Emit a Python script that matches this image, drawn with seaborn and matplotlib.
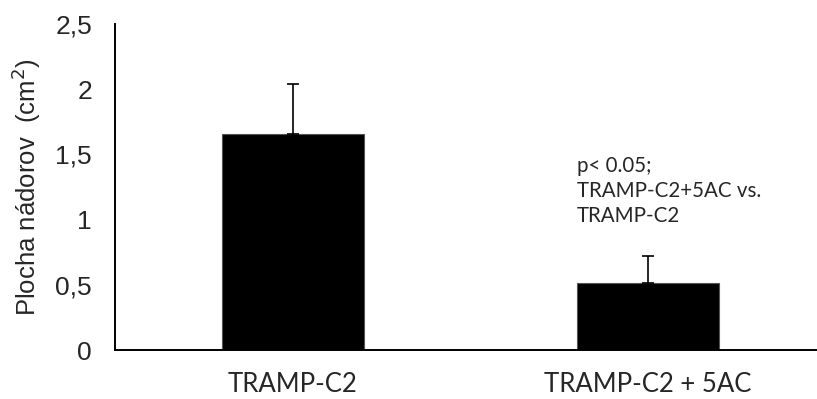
import matplotlib
matplotlib.use("Agg")
import matplotlib.pyplot as plt
import seaborn as sns
import pandas as pd

groups = ["TRAMP-C2", "TRAMP-C2 + 5AC"]
area_mean = [1.66, 0.51]
area_err = [0.38, 0.21]
y_ticks = [0, 0.5, 1, 1.5, 2, 2.5]
y_tick_labels = ["0", "0,5", "1", "1,5", "2", "2,5"]

df = pd.DataFrame({"group": groups, "area": area_mean})

sns.set_theme(style="white")
plt.rcParams["font.family"] = ["Liberation Sans", "DejaVu Sans"]

fig = plt.figure(figsize=(8.17, 3.99), dpi=100)
W, H = 817, 399
left, right, top, bottom = 115, 825, 24, 350
ax = fig.add_axes([left / W, 1 - bottom / H, (right - left) / W, (bottom - top) / H])

sns.barplot(data=df, x="group", y="area", color="black", width=0.4,
            errorbar=None, ax=ax, saturation=1, edgecolor="#555555", linewidth=0.8)
ax.errorbar(range(len(groups)), area_mean, yerr=[[0, 0], area_err], fmt="none",
            ecolor="black", elinewidth=1.2, capsize=4.5, capthick=1.2)

ax.set_xlim(-0.5, 1.5)
ax.set_ylim(0, 2.5)
ax.set_yticks(y_ticks)
ax.set_yticklabels(y_tick_labels, fontsize=19)
ax.set_xticks([-0.5, 0.5, 1.5], minor=False)
ax.set_xticklabels([])
ax.set_xticks([0, 1], minor=True)
ax.set_xticklabels(groups, minor=True, fontsize=18.5, family=["Lato", "DejaVu Sans"])
ax.tick_params(axis="x", which="minor", length=0, pad=16)
ax.tick_params(axis="x", which="major", direction="out", length=6, width=1.4, color="black")
ax.tick_params(axis="y", direction="out", length=6, width=1.4, color="black", pad=10.5)
ax.set_xlabel("")
ax.set_ylabel("Plocha nádorov  (cm$^2$)", fontsize=18.5)
ax.yaxis.set_label_coords(-0.101, 0.5)

for side in ["top", "right"]:
    ax.spines[side].set_visible(False)
for side in ["left", "bottom"]:
    ax.spines[side].set_color("black")
    ax.spines[side].set_linewidth(1.4)

ax.text(0.801, 1.22, "p< 0.05;\nTRAMP-C2+5AC vs.\nTRAMP-C2", fontsize=14.8,
        family=["Lato", "DejaVu Sans"], va="center", ha="left", linespacing=1.33)

fig.savefig("out.png", dpi=100)
